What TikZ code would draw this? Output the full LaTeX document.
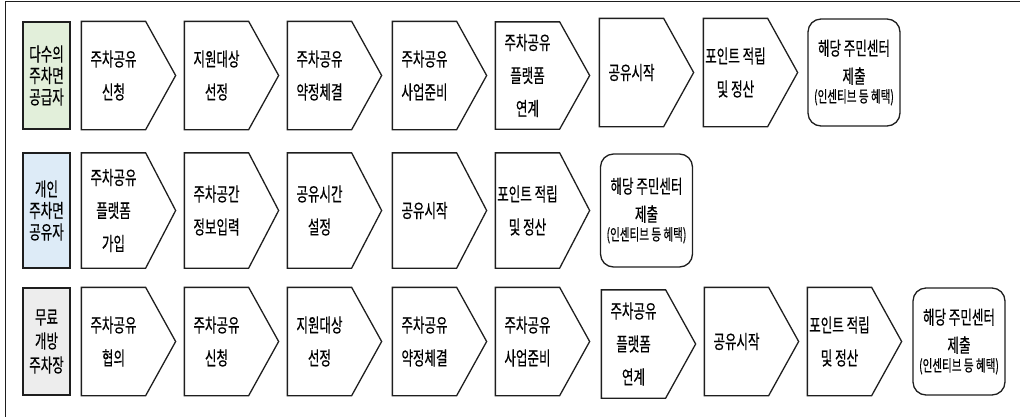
\documentclass[tikz,border=0pt]{standalone}
\usepackage{fontspec}
\newfontfamily\kr{Noto Sans CJK KR}[FakeStretch=0.66,FakeBold=0.5]
\definecolor{supplygreen}{HTML}{E2EFDA}
\definecolor{shareblue}{HTML}{DDEBF7}
\definecolor{freegray}{HTML}{EDEDED}
\definecolor{linegray}{HTML}{1E1E1E}
\newcommand{\incentive}{{\fontsize{16}{16}\selectfont (인센티브 등 혜택)}}

\begin{document}
\begin{tikzpicture}[x=1pt,y=-1pt,line width=1.3pt,draw=linegray,
  every node/.style={font=\fontsize{19}{33}\selectfont\kr,align=center,inner sep=0pt},
  stepbox/.style={minimum width=63pt,minimum height=#1},
  endbox/.style={draw=linegray,rounded corners=13pt,minimum width=92pt,minimum height=#1,font=\fontsize{19}{28}\selectfont\kr},
  rowlabel/.style={draw=linegray,minimum width=47pt,minimum height=#1,font=\fontsize{19}{21.5}\selectfont\kr}]
\useasboundingbox (0,0) rectangle (1020,416);
% outer frame, cut by the page on the right and at the bottom
\draw[line width=1pt] (5,1.5) rectangle (1040,440);

% row 1: supplier of several parking spaces
\node[rowlabel=107pt,fill=supplygreen] (lab1) at (46.5,75.5) {다수의\\주차면\\공급자};
\foreach \n/\x/\y/\h/\t in {1/82/75.5/107/{주차공유\\신청},2/185/75.5/107/{지원대상\\선정},3/288/75.5/107/{주차공유\\약정체결},4/393/75.5/107/{주차공유\\사업준비},5/496/75.5/106/{\fontsize{19}{29}\selectfont 주차공유\\플랫폼\\연계},6/600/72.5/107/{공유시작},7/704/72.5/107/{포인트 적립\\및 정산}}{
  \node[stepbox=\h pt] (a\n) at (\x+31.5,\y) {\t};
  \draw (a\n.north west) -- (a\n.north east) -- ([xshift=30pt]a\n.east) -- (a\n.south east) -- (a\n.south west) -- cycle;
}
\node[endbox=107pt] (end1) at (854,72.5) {해당 주민센터\\제출\\[-9pt]\incentive};

% row 2: individual sharer
\node[rowlabel=115pt,fill=shareblue] (lab2) at (46.5,210.5) {개인\\주차면\\공유자};
\foreach \n/\x/\t in {1/82/{주차공유\\플랫폼\\가입},2/185/{주차공간\\정보입력},3/288/{공유시간\\설정},4/393/{공유시작},5/496/{포인트 적립\\및 정산}}{
  \node[stepbox=114pt] (b\n) at (\x+31.5,210.5) {\t};
  \draw (b\n.north west) -- (b\n.north east) -- ([xshift=30pt]b\n.east) -- (b\n.south east) -- (b\n.south west) -- cycle;
}
\node[endbox=113pt] (end2) at (646.5,210.5) {해당 주민센터\\제출\\[-9pt]\incentive};

% row 3: free open parking lot
\node[rowlabel=107pt,fill=freegray,font=\fontsize{19}{24}\selectfont\kr] (lab3) at (46.5,341.5) {무료\\개방\\주차장};
\foreach \n/\x/\y/\t in {1/82/341.5/{주차공유\\협의},2/185/341.5/{주차공유\\신청},3/288/341.5/{지원대상\\선정},4/393/341.5/{주차공유\\약정체결},5/496/341.5/{주차공유\\사업준비},6/602/344/{\fontsize{19}{29}\selectfont 주차공유\\플랫폼\\연계},7/705/341.5/{공유시작},8/808/341.5/{포인트 적립\\및 정산}}{
  \node[stepbox=107pt] (c\n) at (\x+31.5,\y) {\t};
  \draw (c\n.north west) -- (c\n.north east) -- ([xshift=30pt]c\n.east) -- (c\n.south east) -- (c\n.south west) -- cycle;
}
\node[endbox=107pt] (end3) at (959,341.5) {해당 주민센터\\제출\\[-9pt]\incentive};
\end{tikzpicture}
\end{document}
